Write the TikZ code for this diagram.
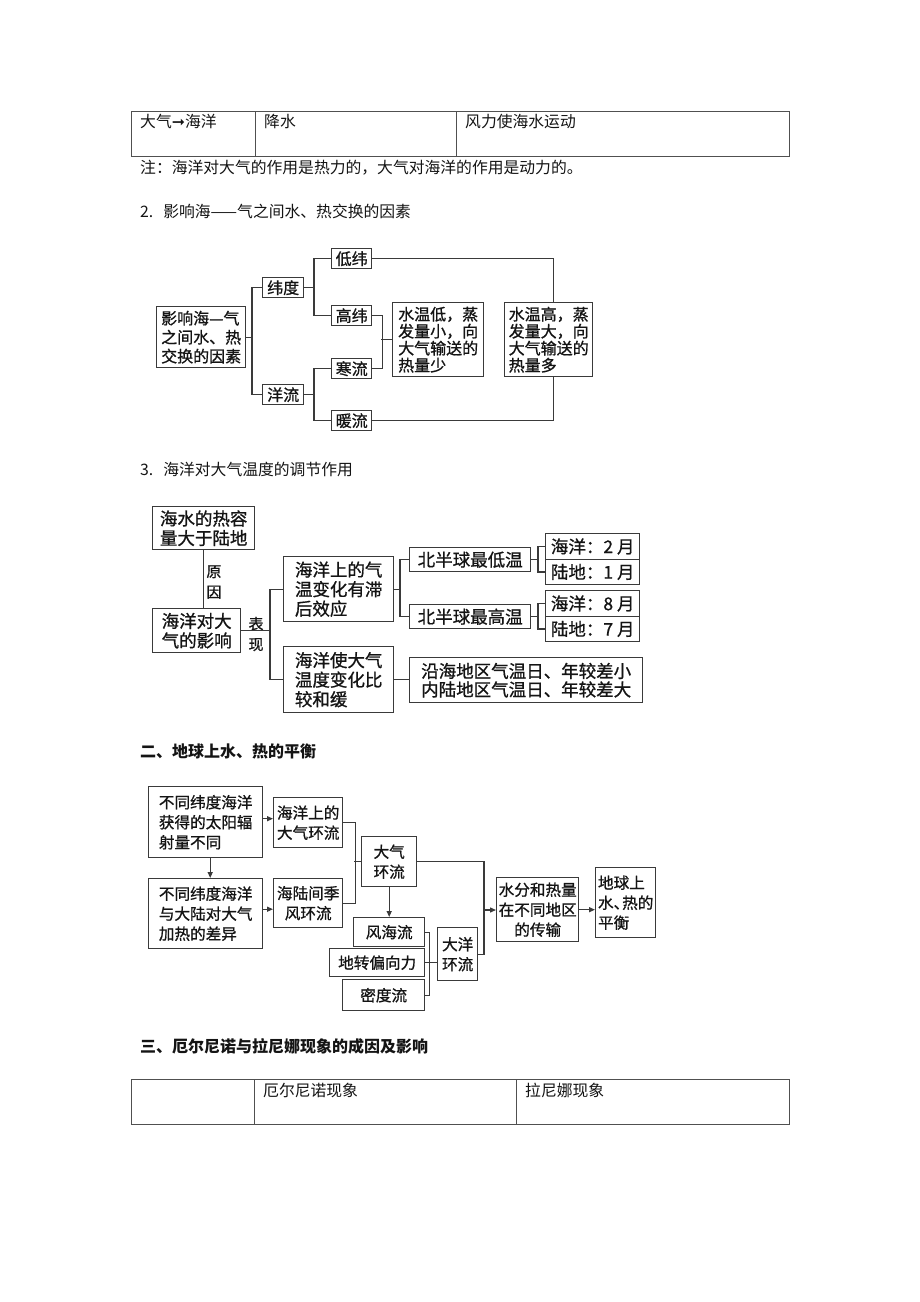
\documentclass[tikz,border=0pt]{standalone}
\usepackage{fontspec}
\usepackage{xcolor}
\usetikzlibrary{arrows.meta}
\newfontfamily\cjk{Noto Sans CJK SC}
\newfontfamily\cjkd[FakeBold=0.9]{Noto Sans CJK SC}
\newfontfamily\symfont{DejaVu Sans}
\definecolor{boxline}{RGB}{58,58,58}
\definecolor{tabline}{RGB}{80,80,80}
\definecolor{ink}{RGB}{20,20,20}

\tikzset{
    txt/.style={anchor=base west, inner sep=0pt, text=ink, font=\cjk\fontsize{15.8}{19}\selectfont},
    hdr/.style={txt, font=\cjk\bfseries\fontsize{16}{19}\selectfont},
    tab/.style={draw=tabline, line width=0.9pt},
    sz/.style 2 args={minimum width=#1pt, minimum height=#2pt},
    box/.style={draw=boxline, line width=1.4pt, anchor=north west, inner sep=1pt, text=ink},
    fa/.style={box, font=\cjkd\fontsize{16}{19}\selectfont},
    fb/.style={box, font=\cjkd\fontsize{17.5}{19.5}\selectfont},
    fc/.style={box, font=\cjkd\fontsize{15.6}{20}\selectfont},
    lbl/.style={inner sep=0pt, align=center, text=ink, font=\cjkd\fontsize{15}{20.5}\selectfont},
    link/.style={draw=boxline, line width=1.3pt},
    arr/.style={link, -{Triangle[length=6pt,width=5pt]}},
}

\begin{document}
\begin{tikzpicture}[x=1pt, y=-1pt]
    \path[fill=white, use as bounding box] (0,0) rectangle (920,1302);

    \draw[tab] (131,111.5) rectangle (789,156);
    \draw[tab] (255,111.5) -- (255,156);
    \draw[tab] (456,111.5) -- (456,156);
    \node[txt] (dir) at (140,127) {大气{\symfont ➞}海洋};
    \node[txt] (rain) at (264,127) {降水};
    \node[txt] (windforce) at (465,127) {风力使海水运动};
    \node[txt] (note) at (140,173.5) {注：海洋对大气的作用是热力的，大气对海洋的作用是动力的。};
    \node[txt] (sectwo) at (140,217) {2.\hspace{10pt}影响海——气之间水、热交换的因素};

    \node[fa, sz={89}{61}, align=left] (root) at (156,306) {影响海—气\\之间水、热\\交换的因素};
    \node[fa, sz={41}{20}] (lat) at (262,277) {纬度};
    \node[fa, sz={41}{20}] (cur) at (262,384) {洋流};
    \node[fa, sz={40}{20}] (lowlat) at (331,248) {低纬};
    \node[fa, sz={40}{20}] (highlat) at (331,305) {高纬};
    \node[fa, sz={40}{20}] (cold) at (331,358) {寒流};
    \node[fa, sz={40}{20}] (warm) at (331,410) {暖流};
    \node[fa, sz={91}{74}, align=left, font=\cjkd\fontsize{16}{17}\selectfont] (coolsea) at (392,302) {水温低，蒸\\发量小，向\\大气输送的\\热量少};
    \node[fa, sz={88}{74}, align=left, font=\cjkd\fontsize{16}{17}\selectfont] (warmsea) at (504,302) {水温高，蒸\\发量大，向\\大气输送的\\热量多};

    \draw[link] (root.east) -- ++(7,0);
    \draw[link] (lat.west) -- ++(-10,0) |- (cur.west);
    \draw[link] (lat.east) -- ++(11,0);
    \draw[link] (lowlat.west) -- ++(-17,0) |- (highlat.west);
    \draw[link] (cur.east) -- ++(11,0);
    \draw[link] (cold.west) -- ++(-17,0) |- (warm.west);
    \draw[link] (highlat.east) -- ++(10,0) |- (cold.east);
    \draw[link] (coolsea.west) -- ++(-11,0);
    \draw[link] (lowlat.east) -| ([xshift=5pt]warmsea.north);
    \draw[link] (warm.east) -| ([xshift=5pt]warmsea.south);

    \node[txt] (secthree) at (140,475) {3.\hspace{10pt}海洋对大气温度的调节作用};

    \node[fb, sz={102}{43}, align=left] (heatcap) at (152,506) {海水的热容\\量大于陆地};
    \node[fb, sz={88}{44}, align=left] (effect) at (152,608) {海洋对大\\气的影响};
    \draw[link] (heatcap.south) -- (heatcap.south |- effect.north);
    \node[lbl] (cause) at (214,582) {原\\因};
    \node[lbl] (shown) at (256,634) {表\\现};
    \node[fb, sz={110}{65}, align=left] (lag) at (283,556) {海洋上的气\\温变化有滞\\后效应};
    \node[fb, sz={110}{66}, align=left] (mild) at (283,646) {海洋使大气\\温度变化比\\较和缓};
    \draw[link] (effect.east) -- ++(30,0);
    \draw[link] (lag.west) -- ++(-13,0) |- (mild.west);
    \node[fb, sz={121}{24}] (minT) at (409,547) {北半球最低温};
    \node[fb, sz={121}{24}] (maxT) at (409,604) {北半球最高温};
    \draw[link] (lag.east) -- ++(7,0);
    \draw[link] (minT.west) -- ++(-9,0) |- (maxT.west);
    \node[fb, sz={94}{25.5}] (seafeb) at (545,533) {海洋：2 月};
    \node[fb, sz={94}{25.5}] (landjan) at (545,558.5) {陆地：1 月};
    \node[fb, sz={94}{25.5}] (seaaug) at (545,590) {海洋：8 月};
    \node[fb, sz={94}{25.5}] (landjul) at (545,615.5) {陆地：7 月};
    \draw[link] (minT.east) -- ++(8,0);
    \draw[link] (seafeb.west) -- ++(-7,0) |- (landjan.west);
    \draw[link] (maxT.east) -- ++(8,0);
    \draw[link] (seaaug.west) -- ++(-7,0) |- (landjul.west);
    \node[fb, sz={233}{45}, align=left, font=\cjkd\fontsize{17.5}{18.5}\selectfont] (coast) at (409,657) {沿海地区气温日、年较差小\\内陆地区气温日、年较差大};
    \draw[link] (mild.east) -- (mild.east -| coast.west);

    \node[hdr] (secbal) at (140,757) {二、地球上水、热的平衡};

    \node[fc, sz={114}{71}, align=left] (solar) at (148,786) {不同纬度海洋\\获得的太阳辐\\射量不同};
    \node[fc, sz={114}{70}, align=left] (heatdiff) at (148,878) {不同纬度海洋\\与大陆对大气\\加热的差异};
    \node[fc, sz={69}{50}, align=center] (oceanair) at (273,797) {海洋上的\\大气环流};
    \node[fc, sz={69}{49}, align=center] (monsoon) at (273,878) {海陆间季\\风环流};
    \node[fc, sz={55}{50}, align=center] (aircirc) at (361,836) {大气\\环流};
    \node[fc, sz={71}{29}] (wind) at (353,917) {风海流};
    \node[fc, sz={95}{28}] (coriolis) at (329,948) {地转偏向力};
    \node[fc, sz={82}{31}] (density) at (342,979) {密度流};
    \node[fc, sz={40}{53}, align=center] (seacirc) at (437,927) {大洋\\环流};
    \node[fc, sz={82}{64}, align=center] (transfer) at (496,877) {水分和热量\\在不同地区\\的传输};
    \node[fc, sz={60}{70}, align=left] (balance) at (595,867) {地球上\\水\makebox[0.55em][l]{、}热的\\平衡};

    \coordinate (cin) at ([yshift=4pt]oceanair.west);
    \coordinate (din) at ([yshift=-6pt]monsoon.west);
    \coordinate (merge) at (484,910);
    \draw[arr] ([xshift=4.5pt]solar.south) -- ([xshift=4.5pt]heatdiff.north);
    \draw[arr] (solar.east |- cin) -- (cin);
    \draw[arr] (heatdiff.east |- din) -- (din);
    \draw[link] (oceanair.east) -- ++(12,0) |- (monsoon.east);
    \draw[link] (aircirc.west) -- ++(-7,0);
    \draw[arr] (aircirc.south) -- (aircirc.south |- wind.north);
    \draw[link] (wind.east) -- ++(4,0) |- (density.east);
    \draw[link] (coriolis.east) -- (coriolis.east -| seacirc.west);
    \draw[link] (aircirc.east) -| (merge) |- (seacirc.east);
    \draw[arr] (merge) -- (merge -| transfer.west);
    \draw[arr] (transfer.east) -- (transfer.east -| balance.west);

    \node[hdr] (secenso) at (140,1052) {三、厄尔尼诺与拉尼娜现象的成因及影响};
    \draw[tab] (131,1079) rectangle (789,1124);
    \draw[tab] (254.5,1079) -- (254.5,1124);
    \draw[tab] (516,1079) -- (516,1124);
    \node[txt] (elnino) at (263,1096) {厄尔尼诺现象};
    \node[txt] (lanina) at (525,1096) {拉尼娜现象};
\end{tikzpicture}
\end{document}
